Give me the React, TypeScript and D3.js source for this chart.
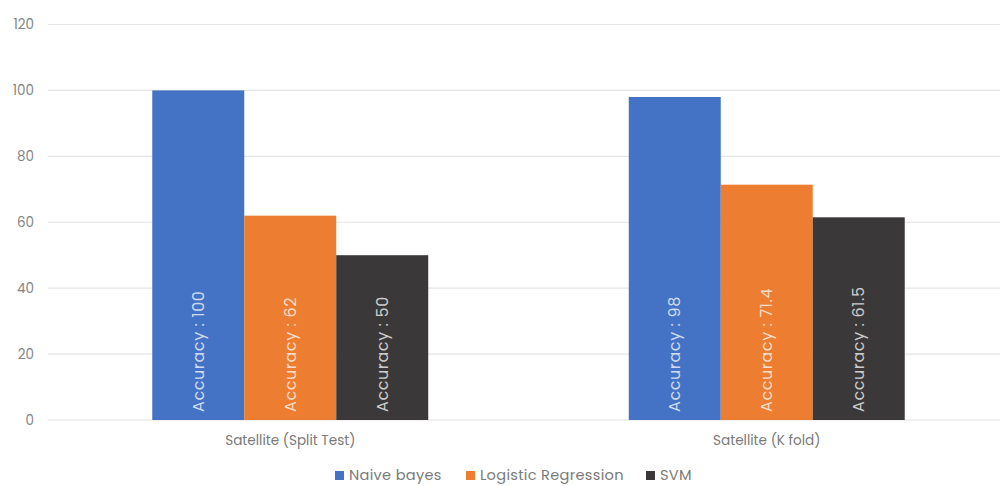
import React from "react";
import * as d3 from "d3";

const categories = ["Satellite (Split Test)", "Satellite (K fold)"];
const seriesNames = ["Naive bayes", "Logistic Regression", "SVM"];
const naiveBayes = [100, 98];
const logisticRegression = [62, 71.4];
const svm = [50, 61.5];
const yTicks = [0, 20, 40, 60, 80, 100, 120];
const colors = ["#4472C4", "#ED7D31", "#3A3838"];

const W = 1000;
const H = 486;
const FONT = "Poppins, Inter, 'Open Sans', sans-serif";

export default function App() {
  const values = [naiveBayes, logisticRegression, svm];
  const y = d3.scaleLinear().domain([0, 120]).range([420, 24.5]);
  const x0 = d3.scaleBand<string>().domain(categories).range([52, 1005]).padding(0);
  const x1 = d3
    .scaleBand<string>()
    .domain(seriesNames)
    .range([0, x0.bandwidth()])
    .paddingInner(0)
    .paddingOuter(1.09);

  const legendItems = [
    { name: seriesNames[0], x: 335 },
    { name: seriesNames[1], x: 466 },
    { name: seriesNames[2], x: 646 },
  ];

  return (
    <svg
      width={W}
      height={H}
      style={{ position: "absolute", left: 0, top: 0, background: "#fff" }}
      fontFamily={FONT}
    >
      {yTicks.map((t) => (
        <g key={t}>
          <line x1={48} x2={W} y1={y(t)} y2={y(t)} stroke="#e4e4e4" strokeWidth={1.2} />
          <text x={34} y={y(t) + 4.5} textAnchor="end" fontSize={13.5} fill="#858585">
            {t}
          </text>
        </g>
      ))}
      {categories.map((c, ci) => (
        <g key={c} transform={`translate(${x0(c)},0)`}>
          {seriesNames.map((s, si) => {
            const v = values[si][ci];
            const bx = x1(s)!;
            const bw = x1.bandwidth();
            const cx = bx + bw / 2;
            return (
              <g key={s}>
                <rect x={bx} y={y(v)} width={bw} height={y(0) - y(v)} fill={colors[si]} />
                <text
                  transform={`translate(${cx + 5.5},${y(0) - 8}) rotate(-90)`}
                  fontSize={16}
                  fill="#ffffff"
                  fillOpacity={0.75}
                  letterSpacing={0.6}
                >
                  {`Accuracy : ${v}`}
                </text>
              </g>
            );
          })}
          <text
            x={x0.bandwidth() / 2}
            y={445}
            textAnchor="middle"
            fontSize={13.6}
            fill="#7a7a7a"
          >
            {c}
          </text>
        </g>
      ))}
      {legendItems.map((l, i) => (
        <g key={l.name}>
          <rect x={l.x} y={471} width={9} height={9} fill={colors[i]} />
          <text x={l.x + 14} y={480} fontSize={14.6} fill="#7a7a7a" letterSpacing={0.3}>
            {l.name}
          </text>
        </g>
      ))}
    </svg>
  );
}
